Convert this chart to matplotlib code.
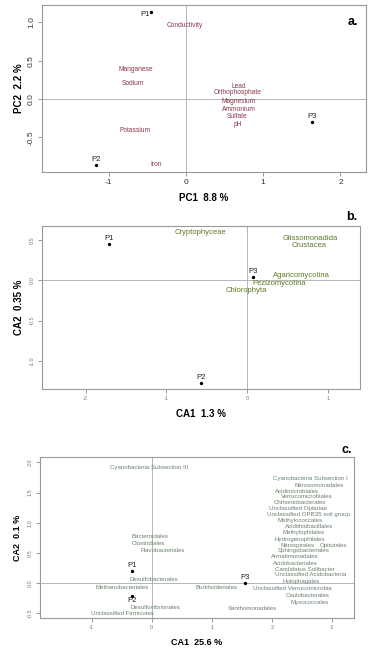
import matplotlib
matplotlib.use("Agg")
import matplotlib.pyplot as plt

plt.rcParams['font.family'] = ['Liberation Sans', 'DejaVu Sans']

# ---- Panel a (PCA) ----
a_sites = ["P1", "P2", "P3"]
a_site_x = [-0.45, -1.16, 1.63]
a_site_y = [1.13, -0.86, -0.30]
a_vars = ["Conductivity", "Manganese", "Sodium", "Lead", "Orthophosphate",
          "Magnesium", "Ammonium", "Sulfate", "pH", "Potassium", "Iron"]
a_var_x = [-0.01, -0.65, -0.69, 0.68, 0.67, 0.69, 0.69, 0.66, 0.67, -0.66, -0.38]
a_var_y = [0.955, 0.39, 0.205, 0.16, 0.08, -0.03, -0.14, -0.23, -0.33, -0.41, -0.85]
a_xticks = [-1, 0, 1, 2]
a_yticks = [-0.5, 0.0, 0.5, 1.0]

# ---- Panel b (CA) ----
b_sites = ["P1", "P2", "P3"]
b_site_x = [-1.71, -0.575, 0.07]
b_site_y = [0.445, -1.27, 0.04]
b_taxa = ["Cryptophyceae", "Glissomonadida", "Crustacea", "Agaricomycotina",
          "Pezizomycotina", "Chlorophyta"]
b_taxa_x = [-0.58, 0.78, 0.77, 0.67, 0.40, -0.01]
b_taxa_y = [0.59, 0.52, 0.43, 0.057, -0.037, -0.13]
b_xticks = [-2, -1, 0, 1]
b_yticks = [-1.0, -0.5, 0.0, 0.5]

# ---- Panel c (CA) ----
c_sites = ["P1", "P2", "P3"]
c_site_x = [-0.33, -0.33, 1.55]
c_site_y = [0.20, -0.22, 0.005]
c_taxa = ["Cyanobacteria Subsection III", "Cyanobacteria Subsection I", "Nitrosomonadales",
          "Acidimicrobiales", "Verrucomicrobiales", "Chthoniobacterales",
          "Unclassified Opitutae", "Unclassified OPB35 soil group", "Methylococcales",
          "Acidithiobacillales", "Methylophilales", "Hydrogenophilales", "Nitrospirales",
          "Opitutales", "Sphingobacteriales", "Armatimonadales", "Acidobacteriales",
          "Candidatus Solibacter", "Unclassified Acidobacteria", "Holophagales",
          "Unclassified Verrucomicrobia", "Caulobacterales", "Myxococcales",
          "Xanthomonadales", "Burkholderiales", "Bacteroidales", "Clostridiales",
          "Flavobacteriales", "Desulfobacterales", "Methanobacteriales",
          "Desulfovibrionales", "Unclassified Firmicutes"]
c_taxa_x = [-0.04, 2.64, 2.79, 2.42, 2.58, 2.47, 2.44, 2.61, 2.47, 2.62, 2.53, 2.46, 2.43,
            3.03, 2.53, 2.39, 2.39, 2.56, 2.64, 2.49, 2.35, 2.60, 2.64, 1.68, 1.08,
            -0.03, -0.06, 0.19, 0.03, -0.50, 0.07, -0.48]
c_taxa_y = [1.92, 1.73, 1.61, 1.52, 1.43, 1.34, 1.24, 1.13, 1.03, 0.93, 0.83, 0.73, 0.63,
            0.63, 0.54, 0.44, 0.33, 0.23, 0.14, 0.03, -0.09, -0.20, -0.33, -0.43, -0.07,
            0.77, 0.65, 0.54, 0.055, -0.07, -0.41, -0.51]
c_xticks = [-1, 0, 1, 2, 3]
c_yticks = [-0.5, 0.0, 0.5, 1.0, 1.5, 2.0]

W, H = 373, 657
fig = plt.figure(figsize=(W / 100, H / 100), dpi=100)


def make_ax(l, t, r, b):
    return fig.add_axes([l / W, 1 - b / H, (r - l) / W, (b - t) / H])


def style(ax, xlim, ylim, xticks, yticks, tick_fs, tick_col):
    ax.set_xlim(*xlim)
    ax.set_ylim(*ylim)
    ax.set_xticks(xticks)
    ax.set_yticks(yticks)
    ax.set_xticklabels([f"{v:g}" for v in xticks], fontsize=tick_fs, color=tick_col)
    ax.set_yticklabels([f"{v:.1f}" for v in yticks], fontsize=tick_fs, color=tick_col,
                       rotation=90, va='center')
    ax.tick_params(direction='out', length=3, width=0.6, colors='#888888',
                   labelcolor=tick_col, pad=2)
    for s in ax.spines.values():
        s.set_color('#999999')
        s.set_linewidth(0.8)
    ax.axhline(0, color='#aaaaaa', lw=0.6, zorder=0)
    ax.axvline(0, color='#aaaaaa', lw=0.6, zorder=0)


def sites(ax, names, xs, ys, fs, offsets=None):
    ax.scatter(xs, ys, s=2, color='black', zorder=3)
    for i, (n, x, y) in enumerate(zip(names, xs, ys)):
        off, ha, va = (0, 1.5), 'center', 'bottom'
        if offsets and i in offsets:
            off, ha, va = offsets[i]
        ax.annotate(n, (x, y), xytext=off, textcoords='offset points',
                    ha=ha, va=va, fontsize=fs, color='#222222')


# Panel a
axa = make_ax(42, 5, 366, 172)
style(axa, (-1.86, 2.33), (-0.95, 1.225), a_xticks, a_yticks, 6, '#333333')
sites(axa, a_sites, a_site_x, a_site_y, 5.5, offsets={0: ((-1, -1.5), 'right', 'center')})
for n, x, y in zip(a_vars, a_var_x, a_var_y):
    axa.text(x, y, n, ha='center', va='center', fontsize=4.8, color='#8a3848')
axa.text(0.975, 0.9, "a.", transform=axa.transAxes, ha='right', va='center',
         fontsize=9, fontweight='bold')
axa.set_xlabel("PC1  8.8 %", fontsize=7, fontweight='bold', labelpad=5)
axa.set_ylabel("PC2  2.2 %", fontsize=7, fontweight='bold', labelpad=3)

# Panel b
axb = make_ax(42, 226, 360, 389)
style(axb, (-2.54, 1.40), (-1.345, 0.67), b_xticks, b_yticks, 4, '#777777')
sites(axb, b_sites, b_site_x, b_site_y, 5.5)
for n, x, y in zip(b_taxa, b_taxa_x, b_taxa_y):
    axb.text(x, y, n, ha='center', va='center', fontsize=5.5, color='#5e7a24')
fig.text(357 / W, 1 - 217 / H, "b.", ha='right', va='center', fontsize=9,
         fontweight='bold')
axb.set_xlabel("CA1  1.3 %", fontsize=7, fontweight='bold', labelpad=6)
axb.set_ylabel("CA2  0.35 %", fontsize=7, fontweight='bold', labelpad=4)

# Panel c
axc = make_ax(40, 457, 354, 618)
style(axc, (-1.86, 3.37), (-0.58, 2.09), c_xticks, c_yticks, 4, '#777777')
sites(axc, c_sites, c_site_x, c_site_y, 5.5, offsets={1: ((0, -0.5), 'center', 'top')})
for n, x, y in zip(c_taxa, c_taxa_x, c_taxa_y):
    axc.text(x, y, n, ha='center', va='center', fontsize=4.4, color='#6b806b')
fig.text(352 / W, 1 - 450 / H, "c.", ha='right', va='center', fontsize=9,
         fontweight='bold')
axc.set_xlabel("CA1  25.6 %", fontsize=6.5, fontweight='bold', labelpad=6)
axc.set_ylabel("CA2  0.1 %", fontsize=6.5, fontweight='bold', labelpad=4)

fig.savefig("out.png", dpi=100, facecolor='white')
